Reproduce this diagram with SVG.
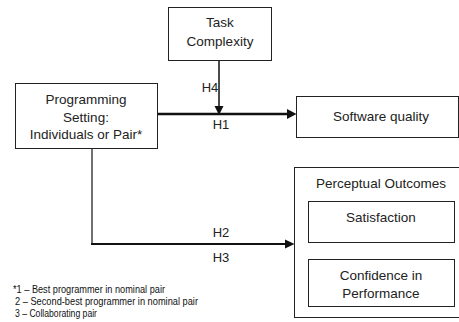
<svg xmlns="http://www.w3.org/2000/svg" width="459" height="322" viewBox="0 0 459 322">
<style>
  .box{fill:#fff;stroke:#222;stroke-width:1}
  .t{font-family:"Liberation Sans",Arial,sans-serif;font-size:13.5px;fill:#222;text-anchor:middle}
  .lbl{font-family:"Liberation Sans",Arial,sans-serif;font-size:13px;fill:#222;text-anchor:middle}
  .fn{font-family:"Liberation Sans",Arial,sans-serif;font-size:11.5px;fill:#111}
  .ln{fill:none;stroke:#111}
  .ah{fill:#111}
</style>
<rect width="459" height="322" fill="#fff"/>
<g id="connectors">
  <line class="ln" x1="219" y1="60" x2="219" y2="107" stroke-width="1.5"/>
  <polygon class="ah" points="219,115 214.5,106 223.5,106"/>
  <line class="ln" x1="157" y1="114" x2="288" y2="114" stroke-width="2.5"/>
  <polygon class="ah" points="296.5,114 287,109 287,119"/>
  <polyline class="ln" points="92,148 92,244" stroke-width="1.2"/>
  <line class="ln" x1="91" y1="244" x2="287" y2="244" stroke-width="2"/>
  <polygon class="ah" points="294.5,244 285,239.5 285,248.5"/>
  <text class="lbl" x="210" y="92">H4</text>
  <text class="lbl" x="221" y="129">H1</text>
  <text class="lbl" x="221" y="237">H2</text>
  <text class="lbl" x="221" y="262">H3</text>
</g>
<g id="task-complexity">
  <rect class="box" x="168.5" y="7.5" width="103" height="53"/>
  <text class="t" x="220" y="27">Task</text>
  <text class="t" x="220" y="46">Complexity</text>
</g>
<g id="programming-setting">
  <rect class="box" x="15.5" y="83.5" width="142" height="65"/>
  <text class="t" x="86" y="104">Programming</text>
  <text class="t" x="86" y="122">Setting:</text>
  <text class="t" x="86" y="139">Individuals or Pair*</text>
</g>
<g id="software-quality">
  <rect class="box" x="296.5" y="96.5" width="162" height="41"/>
  <text class="t" x="381" y="121">Software quality</text>
</g>
<g id="perceptual-outcomes">
  <rect class="box" x="294.5" y="167.5" width="170" height="150"/>
  <text class="t" x="381" y="188">Perceptual Outcomes</text>
</g>
<g id="satisfaction">
  <rect class="box" x="308.5" y="201.5" width="146" height="41"/>
  <text class="t" x="381" y="222">Satisfaction</text>
</g>
<g id="confidence">
  <rect class="box" x="308.5" y="259.5" width="146" height="47"/>
  <text class="t" x="381" y="280">Confidence in</text>
  <text class="t" x="381" y="298">Performance</text>
</g>
<g id="footnote">
  <text class="fn" x="13" y="293" textLength="152" lengthAdjust="spacingAndGlyphs">*1 – Best programmer in nominal pair</text>
  <text class="fn" x="15" y="305" textLength="183" lengthAdjust="spacingAndGlyphs">2 – Second-best programmer in nominal pair</text>
  <text class="fn" x="15" y="317" textLength="82" lengthAdjust="spacingAndGlyphs">3 – Collaborating pair</text>
</g>
</svg>
